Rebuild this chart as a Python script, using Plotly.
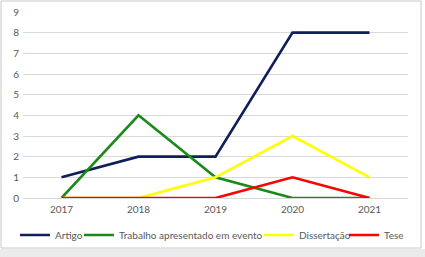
import plotly.graph_objects as go

years = ["2017", "2018", "2019", "2020", "2021"]
artigo = [1, 2, 2, 8, 8]
trabalho = [0, 4, 1, 0, 0]
dissertacao = [0, 0, 1, 3, 1]
tese = [0, 0, 0, 1, 0]

series = [
    ("Artigo", artigo, "#0e1f5b"),
    ("Trabalho apresentado em evento", trabalho, "#1a8a1a"),
    ("Dissertação", dissertacao, "#ffff00"),
    ("Tese", tese, "#ff0000"),
]

W, H = 425, 257
ml, mr, mt, mb = 23, 17, 12, 59
pw, ph = W - ml - mr, H - mt - mb

legend_ids = ["legend", "legend2", "legend3", "legend4"]
legend_left_px = [15, 79, 259, 344]

fig = go.Figure()
for (name, vals, col), lid in zip(series, legend_ids):
    fig.add_trace(go.Scatter(x=years, y=vals, name=name, mode="lines",
                             line=dict(color=col, width=2.6), legend=lid))

legend_y = (H - mb - 235) / ph
legends = {}
for lid, lx in zip(legend_ids, legend_left_px):
    legends[lid] = dict(orientation="h", x=(lx - ml) / pw, xanchor="left",
                        y=legend_y, yanchor="middle", bgcolor="rgba(0,0,0,0)",
                        font=dict(size=10, color="#595959"), itemwidth=30)

fig.update_layout(
    width=W, height=H,
    margin=dict(l=ml, r=mr, t=mt, b=mb, autoexpand=False),
    paper_bgcolor="white", plot_bgcolor="white",
    font=dict(family="Lato, sans-serif", size=10, color="#595959"),
    showlegend=True,
    xaxis=dict(type="category", range=[-0.5, 4.5], showgrid=False, showline=False,
               zeroline=False, ticks="", ticklabelstandoff=4,
               tickfont=dict(size=10, color="#595959")),
    yaxis=dict(range=[0, 9], dtick=1, showgrid=True, gridcolor="#d9d9d9", gridwidth=1,
               zeroline=True, zerolinecolor="#d9d9d9", zerolinewidth=1,
               showline=False, ticks="", ticklabelstandoff=3,
               tickfont=dict(size=10, color="#595959")),
    shapes=[
        dict(type="rect", xref="paper", yref="paper",
             x0=(0 - ml) / pw, x1=(W - ml) / pw,
             y0=(H - mb - H) / ph, y1=(H - mb - 249) / ph,
             line=dict(width=0), fillcolor="#ebebeb", layer="above"),
        dict(type="rect", xref="paper", yref="paper",
             x0=(1 - ml) / pw, x1=(421 - ml) / pw,
             y0=(H - mb - 248) / ph, y1=(H - mb - 1) / ph,
             line=dict(color="#c8c8c8", width=1), fillcolor="rgba(0,0,0,0)",
             layer="above"),
    ],
    **legends,
)

fig.write_html("out.html", config={"displayModeBar": False},
               post_script="document.body.style.margin='0';document.body.style.overflow='hidden';")
